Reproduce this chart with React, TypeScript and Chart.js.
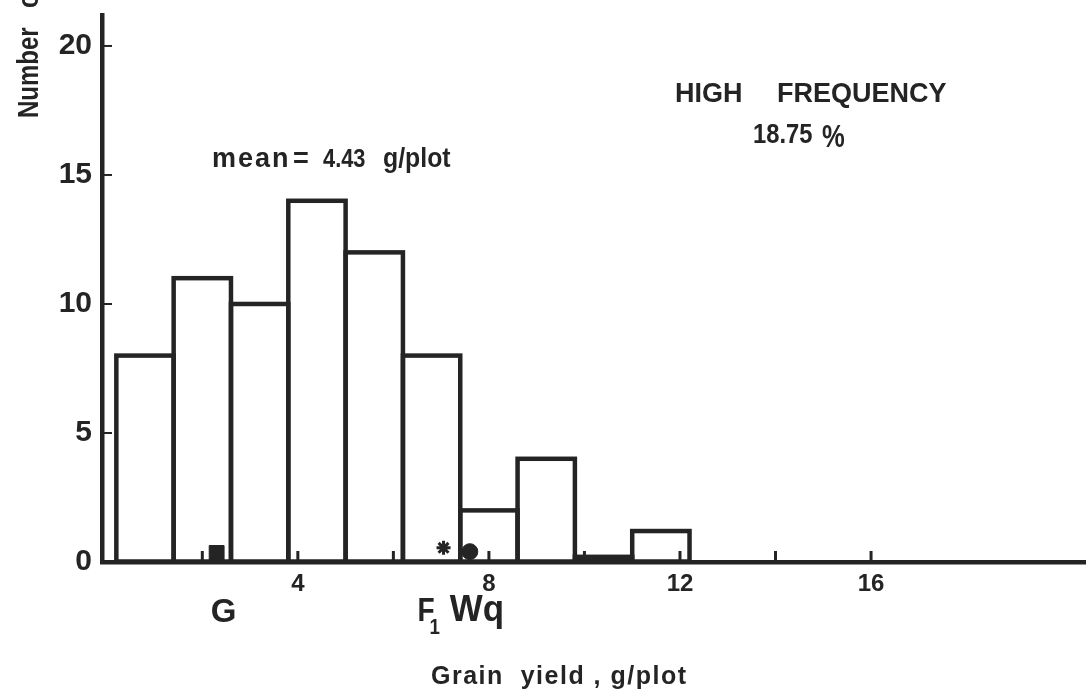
import React, { useEffect, useRef } from "react";
import { Chart, registerables } from "chart.js";

Chart.register(...registerables);

// Histogram of grain yield per plot (bin width 1.2 g)
const binStarts = [0.2, 1.4, 2.6, 3.8, 5.0, 6.2, 7.4, 8.6, 9.8, 11.0];
const binWidth = 1.2;
const counts = [8, 11, 10, 14, 12, 8, 2, 4, 0.2, 1.2];

// Reference genotypes marked on the yield axis
const markerNames = ["G", "F1", "Wq"];
const markerYield = [2.3, 7.05, 7.6];
const markerLevel = [0.35, 0.55, 0.4];
const markerStyles = ["rect", "star", "circle"];
const markerRadius = [10.5, 7, 8];

// Axis ticks
const xLabelTicks = [4, 8, 12, 16];
const xTickMarks = [2, 4, 6, 8, 10, 12, 14, 16];
const yTicks = [0, 5, 10, 15, 20];

const INK = "#242424";
const SANS = '"Liberation Sans", Arial, sans-serif';

// text squeezed horizontally to imitate a condensed face
function condensed(ctx: CanvasRenderingContext2D, text: string, x: number, y: number, font: string, sx: number) {
  ctx.save();
  ctx.translate(x, y);
  ctx.scale(sx, 1);
  ctx.font = font;
  ctx.textAlign = "left";
  ctx.fillText(text, 0, 0);
  ctx.restore();
}

const decor = {
  id: "decor",
  afterDatasetsDraw(chart: any) {
    const ctx = chart.ctx;
    const xs = chart.scales.x;
    const ys = chart.scales.y;
    const area = chart.chartArea;
    ctx.save();
    ctx.strokeStyle = INK;
    ctx.lineWidth = 4.5;
    ctx.lineJoin = "miter";
    // bar outlines, shared edges drawn once over each other
    const meta = chart.getDatasetMeta(0);
    meta.data.forEach((bar: any) => {
      const { x, y, base, width } = bar.getProps(["x", "y", "base", "width"], true);
      ctx.strokeRect(x - width / 2, y, width, base - y);
    });
    // inward tick marks
    ctx.lineWidth = 3;
    xTickMarks.forEach((v) => {
      const px = xs.getPixelForValue(v);
      ctx.beginPath();
      ctx.moveTo(px, area.bottom);
      ctx.lineTo(px, area.bottom - 11);
      ctx.stroke();
    });
    ctx.lineWidth = 2;
    yTicks.forEach((v) => {
      if (v === 0) return;
      const py = ys.getPixelForValue(v);
      ctx.beginPath();
      ctx.moveTo(area.left, py);
      ctx.lineTo(area.left + 10, py);
      ctx.stroke();
    });
    ctx.restore();
  },
  afterDraw(chart: any) {
    const ctx = chart.ctx;
    const xs = chart.scales.x;
    ctx.save();
    ctx.fillStyle = INK;
    ctx.textBaseline = "alphabetic";

    // y-axis title, running off the top edge
    ctx.save();
    ctx.translate(38, 118);
    ctx.rotate(-Math.PI / 2);
    ctx.scale(0.8, 1);
    ctx.textAlign = "left";
    ctx.font = `bold 30px ${SANS}`;
    ctx.fillText("Number", 0, 0);
    const w = ctx.measureText("Number").width;
    ctx.fillText("of plants", w + 24, 0);
    ctx.restore();

    ctx.textAlign = "left";
    ctx.font = `bold 27px ${SANS}`;
    ctx.fillText("HIGH", 675, 102);
    ctx.fillText("FREQUENCY", 777, 102);
    condensed(ctx, "18.75", 753, 143, `bold 27px ${SANS}`, 0.88);
    condensed(ctx, "%", 822, 147, `bold 32px ${SANS}`, 0.8);

    ctx.font = `bold 27px ${SANS}`;
    (ctx as any).letterSpacing = "2px";
    ctx.fillText("mean", 212, 167);
    (ctx as any).letterSpacing = "0px";
    ctx.fillText("=", 293, 167);
    condensed(ctx, "4.43", 323, 167, `bold 26px ${SANS}`, 0.84);
    condensed(ctx, "g/plot", 383, 167, `bold 27px ${SANS}`, 0.92);

    // genotype labels under their markers
    ctx.font = `bold 33px ${SANS}`;
    const gx = xs.getPixelForValue(markerYield[0]);
    ctx.textAlign = "center";
    ctx.fillText(markerNames[0], gx + 7, 622);
    const fx = xs.getPixelForValue(markerYield[1]);
    ctx.textAlign = "left";
    condensed(ctx, "F", fx - 26, 621, `bold 33px ${SANS}`, 0.85);
    condensed(ctx, markerNames[1].slice(1), fx - 14, 634, `bold 22px ${SANS}`, 0.85);
    const wx = xs.getPixelForValue(markerYield[2]);
    condensed(ctx, markerNames[2], wx - 20, 621, `bold 36px ${SANS}`, 0.97);

    // x-axis title
    ctx.font = `bold 25px ${SANS}`;
    (ctx as any).letterSpacing = "1.5px";
    ctx.fillText("Grain  yield , g/plot", 431, 684);
    (ctx as any).letterSpacing = "0px";
    ctx.restore();
  },
};

export default function App() {
  const ref = useRef<HTMLCanvasElement | null>(null);

  useEffect(() => {
    document.body.style.margin = "0";
    const canvas = ref.current;
    if (!canvas) return;
    const chart = new Chart(canvas, {
      type: "bar",
      data: {
        datasets: [
          {
            type: "bar",
            data: counts.map((c, i) => ({ x: binStarts[i] + binWidth / 2, y: c })),
            backgroundColor: counts.map((c) => (c < 0.5 ? INK : "rgba(0,0,0,0)")),
            borderWidth: 0,
            barPercentage: 1,
            categoryPercentage: 1,
          } as any,
          {
            type: "scatter",
            data: markerYield.map((x, i) => ({ x, y: markerLevel[i] })),
            pointStyle: markerStyles as any,
            pointRadius: markerRadius,
            backgroundColor: INK,
            borderColor: INK,
            borderWidth: [1, 3, 1],
            clip: false,
          } as any,
        ],
      },
      options: {
        responsive: false,
        animation: false,
        layout: { autoPadding: false, padding: { top: 15, right: 0, left: 0, bottom: 0 } },
        plugins: { legend: { display: false }, tooltip: { enabled: false } },
        scales: {
          x: {
            type: "linear",
            min: -0.1,
            max: 20.5,
            offset: false,
            grid: { display: true, color: "rgba(0,0,0,0)", drawTicks: false, offset: false },
            border: { display: true, width: 4.5, color: INK },
            afterBuildTicks: (scale: any) => {
              scale.ticks = xLabelTicks.map((v) => ({ value: v }));
            },
            afterFit: (scale: any) => {
              scale.height = 133;
              scale.paddingLeft = 0;
              scale.paddingRight = 0;
            },
            ticks: {
              color: INK,
              padding: 8,
              font: { family: SANS, size: 24, weight: "bold" },
              maxRotation: 0,
              autoSkip: false,
            },
          },
          y: {
            type: "linear",
            min: 0,
            max: 21.2,
            grid: { display: true, color: "rgba(0,0,0,0)", drawTicks: false },
            border: { display: true, width: 4.5, color: INK },
            afterBuildTicks: (scale: any) => {
              scale.ticks = yTicks.map((v) => ({ value: v }));
            },
            afterFit: (scale: any) => {
              scale.width = 102;
              scale.paddingTop = 0;
              scale.paddingBottom = 0;
            },
            ticks: {
              color: INK,
              padding: 10,
              font: { family: SANS, size: 30, weight: "bold" },
              autoSkip: false,
            },
          },
        },
      },
      plugins: [decor],
    });
    return () => chart.destroy();
  }, []);

  return (
    <div style={{ width: 1086, height: 695, background: "#fff" }}>
      <canvas ref={ref} width={1086} height={695} style={{ display: "block" }} />
    </div>
  );
}
